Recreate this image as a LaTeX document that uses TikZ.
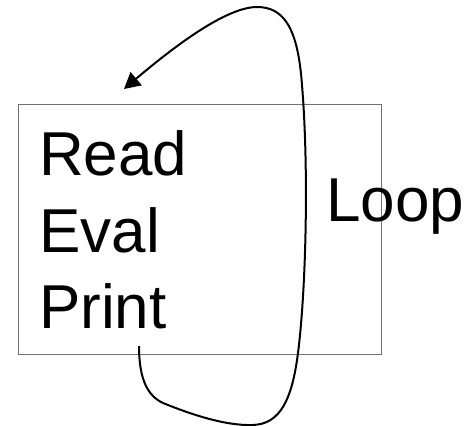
\documentclass[tikz,border=0pt]{standalone}
\usepackage{fontspec}
\setmainfont{Liberation Sans}
\usetikzlibrary{arrows.meta}
\begin{document}
\begin{tikzpicture}[x=1pt,y=-1pt,
  word/.style={anchor=base west,inner sep=0pt,font=\fontsize{62}{74}\selectfont},
  frame/.style={draw=black!55,line width=1.3pt},
  loopline/.style={draw=black,line width=2pt,-{Triangle[length=16pt,width=17pt]}}]
\useasboundingbox (0,0) rectangle (467,426);
% the box around the three steps
\node[frame,minimum width=363pt,minimum height=250pt,anchor=north west,inner sep=0pt] (box) at (18,103.5) {};
% the steps
\node[word] (read) at (39,175) {Read};
\node[word] (eval) at (39,252) {Eval};
\node[word] (print) at (39,328) {Print};
\node[word] (loop) at (326,221) {Loop};
% the loop curve, from under Print back up to above Read
\coordinate (start) at (139,346);
\coordinate (tip) at (124,89);
\draw[loopline] (start)
  .. controls (139,380) and (148,396) .. (163,403)
  .. controls (190,414) and (225,426) .. (253,425)
  .. controls (280,424) and (292,400) .. (298,353)
  .. controls (306,290) and (309,170) .. (302,85)
  .. controls (298,30) and (285,7) .. (257,7)
  .. controls (225,7) and (170,50) .. (tip);
\end{tikzpicture}
\end{document}
